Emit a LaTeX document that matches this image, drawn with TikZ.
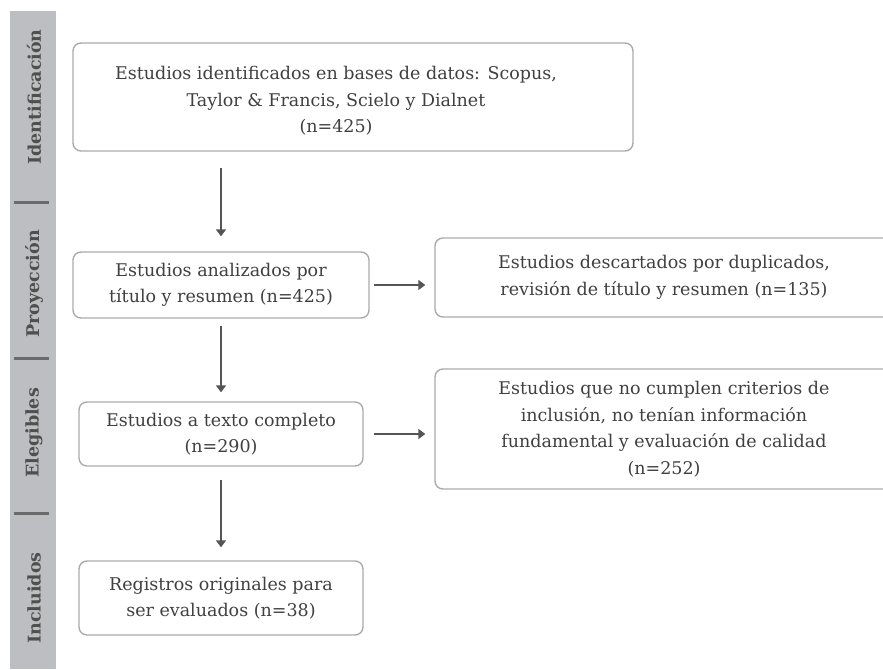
\documentclass[tikz,border=0pt]{standalone}
\usepackage{fontspec}
\setmainfont{DejaVu Serif}
\usetikzlibrary{arrows.meta}
\definecolor{txtc}{HTML}{404040}
\definecolor{boxc}{HTML}{ABABAB}
\definecolor{arrc}{HTML}{555555}
\definecolor{sidec}{HTML}{BDBEC1}
\definecolor{sepc}{HTML}{6B6B6B}
\definecolor{labc}{HTML}{4F4F4F}
\tikzset{
  box/.style={draw=boxc, line width=1.4pt, rounded corners=8pt, fill=white,
    align=center, text=txtc, inner sep=0pt,
    font=\fontsize{17.5pt}{26.5pt}\selectfont},
  plain/.style={align=center, text=txtc, inner sep=0pt,
    font=\fontsize{17.5pt}{26.5pt}\selectfont},
  arr/.style={draw=arrc, line width=2.5pt, -{Triangle[length=7pt,width=10pt]}},
  phase/.style={rotate=90, text=labc, inner sep=0pt,
    font=\fontsize{17.5pt}{20pt}\selectfont\bfseries},
  sep/.style={draw=sepc, line width=3pt}
}
\begin{document}
\begin{tikzpicture}[x=1pt,y=-1pt]
\useasboundingbox (0,0) rectangle (883,669);
\fill[white] (0,0) rectangle (883,669);
% sidebar
\fill[sidec] (10,11) rectangle (56,669);
\node[phase] (p1) at (34,97) {Identificación};
\node[phase] (p2) at (34,284) {Proyección};
\node[phase] (p3) at (34,433) {Elegibles};
\node[phase] (p4) at (34,598) {Incluidos};
\draw[sep] (14,202) -- (49,202);
\draw[sep] (14,358) -- (49,358);
\draw[sep] (14,513) -- (49,513);
% boxes
\node[box, minimum width=560pt, minimum height=108pt] (b1) at (353,97) {};
\node[plain] (t1) at (336,101) {Estudios identificados en bases de datos: Scopus,\\Taylor \& Francis, Scielo y Dialnet\\(n=425)};
\node[box, minimum width=296pt, minimum height=66pt] (b2) at (221,285) {Estudios analizados por\\título y resumen (n=425)};
\node[box, minimum width=458pt, minimum height=79pt] (b3) at (664,277.5) {Estudios descartados por duplicados,\\revisión de título y resumen (n=135)};
\node[box, minimum width=284pt, minimum height=64pt] (b4) at (221,434) {Estudios a texto completo\\(n=290)};
\node[box, minimum width=458pt, minimum height=120pt] (b5) at (664,429) {Estudios que no cumplen criterios de\\inclusión, no tenían información\\fundamental y evaluación de calidad\\(n=252)};
\node[box, minimum width=284pt, minimum height=74pt] (b6) at (221,598) {Registros originales para\\ser evaluados (n=38)};
% arrows
\draw[arr, shorten <=16pt, shorten >=15pt] (b1.south -| b2.north) -- (b2.north);
\draw[arr, shorten <=7pt, shorten >=9pt] (b2.south) -- (b4.north);
\draw[arr, shorten <=13pt, shorten >=13pt] (b4.south) -- (b6.north);
\draw[arr, shorten <=4pt, shorten >=9pt] (b2.east) -- (b3.west |- b2.east);
\draw[arr, shorten <=10pt, shorten >=9pt] (b4.east) -- (b5.west |- b4.east);
\end{tikzpicture}
\end{document}
